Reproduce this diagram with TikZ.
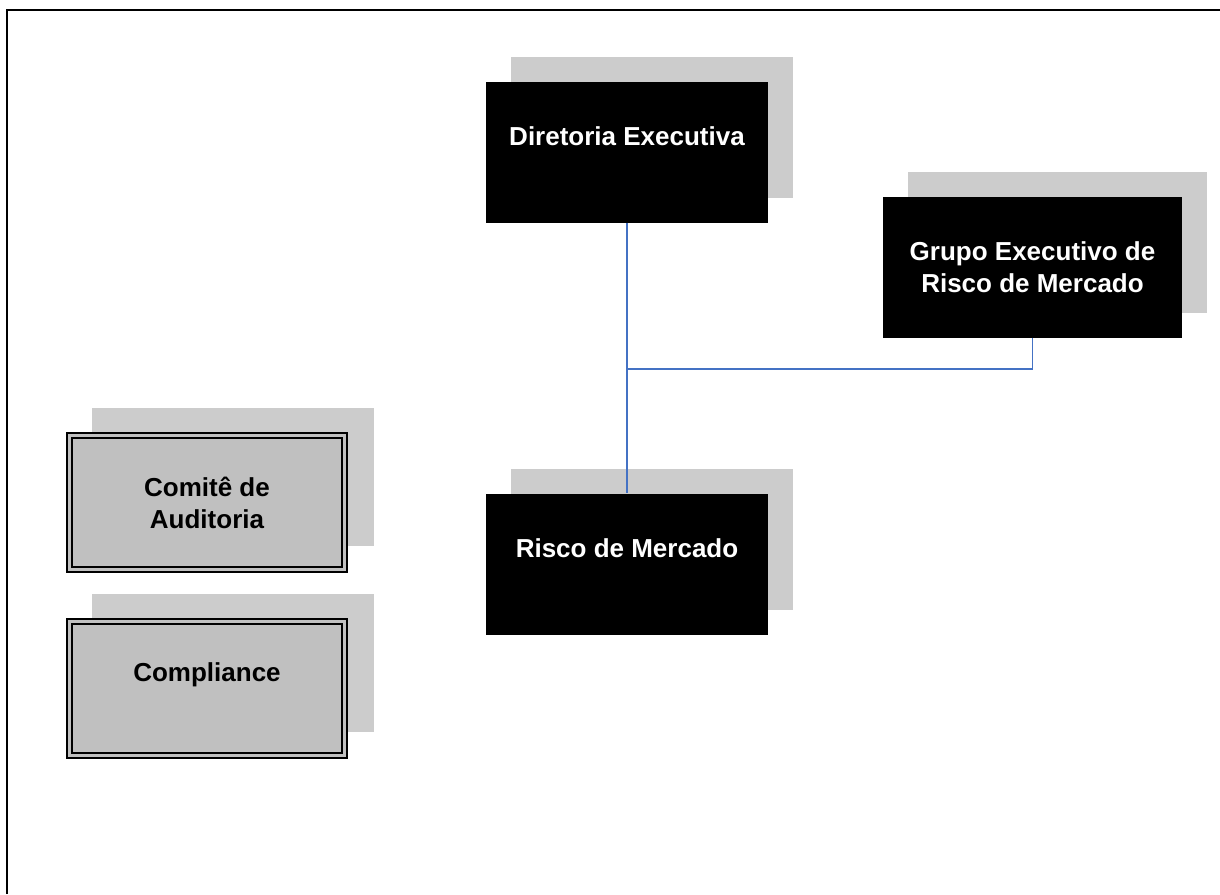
\documentclass[tikz,border=0pt]{standalone}
\usepackage{fontspec}
\setmainfont{Liberation Sans}
\usepackage{tikz}
\usetikzlibrary{shadows}
\usepackage{xcolor}
\definecolor{ombra}{HTML}{CCCCCC}
\definecolor{cinza}{HTML}{C0C0C0}
\definecolor{ligacao}{HTML}{4472C4}

\begin{document}
\begin{tikzpicture}[x = 1pt, y = -1pt,
    caixa/.style = {fill = black, text = white, font = \fontsize{26}{32}\selectfont\bfseries, align = center, inner sep = 0pt, minimum width = 282pt, minimum height = 141pt, general shadow = {fill = ombra, shadow xshift = 25pt, shadow yshift = 25pt}},
    caixadupla/.style = {fill = cinza, draw = black, line width = 2pt, double = cinza, double distance = 3pt, text = black, font = \fontsize{26}{32}\selectfont\bfseries, align = center, inner sep = 0pt, minimum width = 275pt, minimum height = 134pt, general shadow = {fill = ombra, shadow scale = 1.026, shadow xshift = 25pt, shadow yshift = 25pt}},
    linha/.style = {draw = ligacao, line width = 1.4pt}]
    % Variabili
    \pgfmathsetmacro{\colx}{627}
    \pgfmathsetmacro{\ramoy}{369}
    % Area
    \useasboundingbox (0,0) rectangle (1220,894);
    % Cornice
    \draw[line width = 2.5pt] (7,894) -- (7,10) -- (1220,10);
    % Caixas pretas
    \node[caixa] (diretoria) at (\colx,152){Diretoria Executiva\\ \mbox{}};
    \node[caixa, minimum width = 299pt] (grupo) at (1032.5,267){Grupo Executivo de\\ Risco de Mercado};
    \node[caixa] (risco) at (\colx,564){Risco de Mercado\\ \mbox{}};
    % Caixas cinzas
    \node[caixadupla] (comite) at (207,502.5){Comitê de\\ Auditoria};
    \node[caixadupla] (compliance) at (207,688.5){Compliance\\ \mbox{}};
    % Ligacoes
    \coordinate (juncao) at (\colx,\ramoy);
    \draw[linha] (diretoria.south) -- (risco.north);
    \draw[linha] (grupo.south) |- (juncao);
\end{tikzpicture}
\end{document}
